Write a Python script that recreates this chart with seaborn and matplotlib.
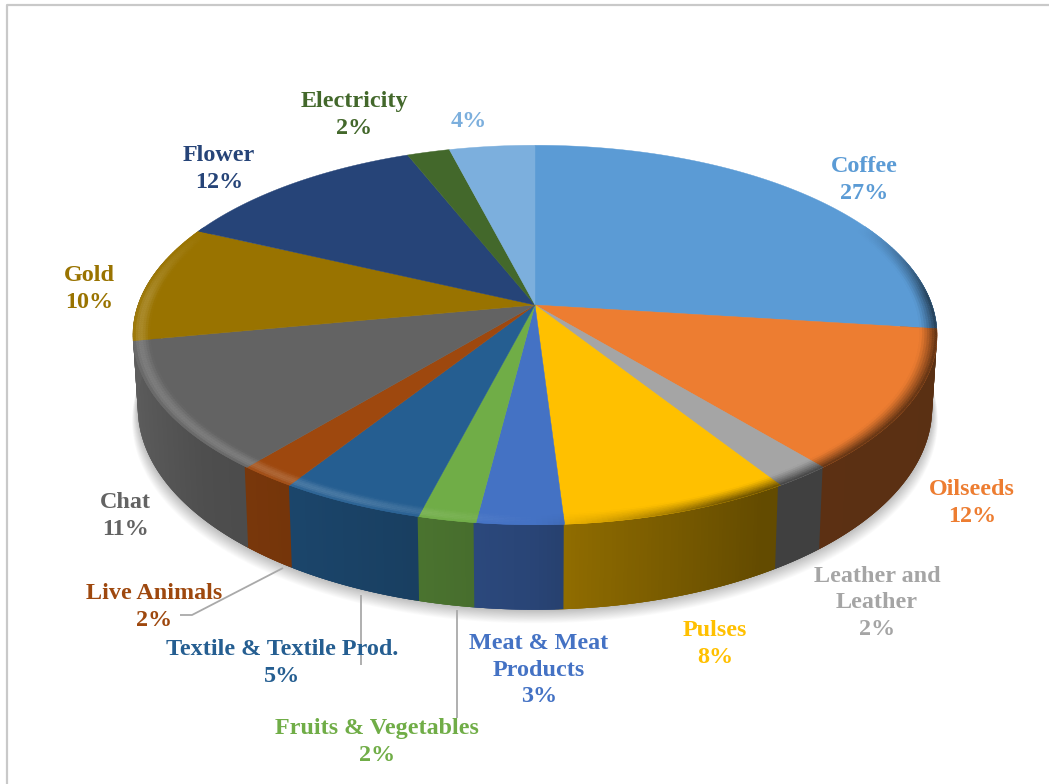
import numpy as np
import matplotlib
matplotlib.use("Agg")
import matplotlib.pyplot as plt
import seaborn as sns
from matplotlib.collections import PolyCollection
from matplotlib.patches import Polygon

# Export shares by commodity, clockwise from twelve o'clock
categories = ["Coffee", "Oilseeds", "Leather and\nLeather", "Pulses",
              "Meat & Meat\nProducts", "Fruits & Vegetables",
              "Textile & Textile Prod.", "Live Animals", "Chat", "Gold",
              "Flower", "Electricity", ""]
shares = [27, 12, 2, 8, 3, 2, 5, 2, 11, 10, 12, 2, 4]
slice_colors = ["#5B9BD5", "#ED7D31", "#A5A5A5", "#FFC000", "#4472C4", "#70AD47",
                "#255E91", "#9E480E", "#636363", "#997300", "#264478", "#43682B",
                "#7CAFDD"]

# Label centres in canvas pixels
label_x = [864, 972, 877, 715, 539, 377, 282, 154, 125, 89, 219, 354, 469]
label_y = [180, 503, 603, 644, 670, 742, 663, 607, 516, 289, 169, 115, 121]
leaders = [[(283, 568), (192, 615), (180, 615)],
           [(361, 595), (361, 665)],
           [(457, 610), (457, 718)]]

sns.set_theme(style="white")
palette = sns.color_palette(slice_colors)

# Perspective projection of the unit disc onto the canvas
CX, CY, KX, KY, PERSP = 535.0, 305.0, 397.0, 185.0, 0.158
BASE_SHRINK = 0.988
LAST_WALL_ANGLE = np.radians(259)


def project(theta, r=1.0):
    u, v = r * np.sin(theta), r * np.cos(theta)
    d = 1 + PERSP * v
    return CX + KX * u / d, CY - KY * v / d


def project_base(theta):
    x, y = project(theta)
    return CX + (x - CX) * BASE_SHRINK, y + 70 - 15 * np.cos(theta)


def wall_factor(theta):
    return np.interp(np.sin(theta), [-1, -0.75, -0.3, 0, 0.1, 0.5, 1],
                     [0.95, 0.79, 0.68, 0.6, 0.55, 0.39, 0.38])


fig = plt.figure(figsize=(10.49, 7.84), dpi=100, facecolor="white")
ax = fig.add_axes([0, 0, 1, 1])
ax.set_xlim(0, 1049)
ax.set_ylim(784, 0)
ax.axis("off")

# Frame around the chart area
ax.plot([6.5, 6.5, 1049], [784, 4.5, 4.5], color="#c9c9c9", lw=1.6, zorder=1)

edges = np.radians(np.concatenate([[0], np.cumsum(shares)]) * 3.6)

# Soft drop shadow under the cylinder
ring = np.radians(np.linspace(0, 360, 361))
bx, by = project_base(ring)
for d in range(16, 0, -1):
    pts = np.column_stack([CX + (bx - CX) * (1 + d * 0.0009), by + d * 0.85])
    ax.add_patch(Polygon(pts, closed=True, fc="black", ec="none", alpha=0.014, zorder=2))

# Side wall: overlapping strips painted in order so no seams show.
# Everything past the silhouette's left turn takes the colour of the last facing slice.
angles = np.radians(np.arange(75, 285.5, 0.5))
for t0, t1 in zip(angles[:-1], angles[1:]):
    idx = np.searchsorted(edges, min(t0, LAST_WALL_ANGLE), side="right") - 1
    shade = tuple(np.array(palette[idx]) * wall_factor(t0))
    span = np.linspace(t0, min(t1 + np.radians(1.0), angles[-1]), 4)
    x, y = project(span)
    bx2, by2 = project_base(span)
    pts = np.vstack([np.column_stack([x, y]), np.column_stack([bx2, by2])[::-1]])
    ax.add_patch(Polygon(pts, closed=True, fc=shade, ec="none", zorder=3))

# Top face
for i, col in enumerate(palette):
    arc = np.linspace(edges[i], edges[i + 1], max(3, int(shares[i] * 3.6) + 1))
    x, y = project(arc)
    pts = np.vstack([[CX, CY], np.column_stack([x, y])])
    ax.add_patch(Polygon(pts, closed=True, fc=col, ec=col, lw=0.3, zorder=4))

# Rounded bevel along the rim: lit on the left, falling into shadow on the right
BAND = 0.042
N_BAND = 7
bevel_polys, bevel_cols = [], []
for i, col in enumerate(palette):
    col = np.array(col)
    steps = np.linspace(edges[i], edges[i + 1], max(2, int(shares[i] * 3.6 * 1.5) + 1))
    for t0, t1 in zip(steps[:-1], steps[1:]):
        tm = (t0 + t1) / 2
        strength = np.clip((0.45 - np.cos(tm)) / 0.4, 0, 1)
        if strength == 0:
            continue
        side = np.clip(-np.sin(tm) * 2.5, -1, 1)
        for k in range(N_BAND):
            r0 = 1 - BAND + BAND * k / N_BAND
            r1 = 1 - BAND + BAND * (k + 1) / N_BAND
            t = (k + 0.5) / N_BAND
            if side > 0:
                amt = 0.17 * side * strength * np.sin(np.pi * t ** 1.3)
                c = col + (1 - col) * amt
            else:
                amt = -side * strength * t ** 1.2
                c = col + (col * wall_factor(tm) - col) * amt
            pts = [project(t0, r0), project(t1, r0), project(t1, r1), project(t0, r1)]
            bevel_polys.append(pts)
            bevel_cols.append(tuple(np.clip(c, 0, 1)))
ax.add_collection(PolyCollection(bevel_polys, facecolors=bevel_cols, edgecolors=bevel_cols,
                                 linewidths=0.3, zorder=5))

# Leader lines
for path in leaders:
    xs, ys = zip(*path)
    ax.plot(xs, ys, color="#a9a9a9", lw=1.3, zorder=6, solid_capstyle="butt")

# Category and percentage labels
for name, share, col, lx, ly in zip(categories, shares, palette, label_x, label_y):
    text = f"{name}\n{share}%" if name else f"{share}%"
    ax.text(lx, ly, text, ha="center", va="center", ma="center", color=col,
            family="Liberation Serif", weight="bold", fontsize=17.4, linespacing=1.36,
            zorder=7)

fig.savefig("out.png", dpi=100, facecolor="white")
